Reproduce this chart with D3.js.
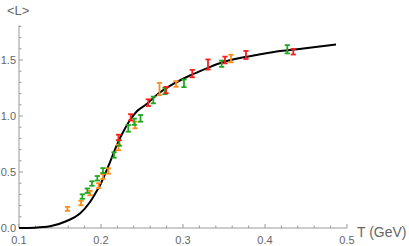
<!DOCTYPE html>
<html>
<head>
<meta charset="utf-8">
<script src="https://cdn.jsdelivr.net/npm/d3@7"></script>
<style>
  body { margin: 0; background: #fff; }
  text { font-family: "Liberation Sans", Arial, sans-serif; fill: #666; }
</style>
</head>
<body>
<div id="chart"></div>
<script>
const width = 409
const height = 246

// lattice points: [T, <L>, error]
const orange = [
  [0.1591, 0.171, 0.018], [0.1756, 0.223, 0.02], [0.1866, 0.312, 0.02],
  [0.1972, 0.378, 0.022], [0.2024, 0.46, 0.022], [0.2089, 0.509, 0.024],
  [0.2213, 0.719, 0.025], [0.2415, 0.92, 0.03], [0.2713, 1.241, 0.055],
  [0.2915, 1.286, 0.025], [0.3585, 1.513, 0.034]
]
const green = [
  [0.1772, 0.281, 0.02], [0.1833, 0.333, 0.02], [0.189, 0.397, 0.02],
  [0.1955, 0.444, 0.02], [0.2024, 0.513, 0.022], [0.2159, 0.652, 0.024],
  [0.2223, 0.759, 0.025], [0.2333, 0.89, 0.03], [0.2406, 0.949, 0.028],
  [0.2482, 0.979, 0.03], [0.2638, 1.143, 0.03], [0.278, 1.223, 0.028],
  [0.3012, 1.292, 0.034], [0.3472, 1.467, 0.028], [0.4272, 1.596, 0.037]
]
const red = [
  [0.2213, 0.808, 0.025], [0.2362, 0.988, 0.028], [0.2577, 1.119, 0.03],
  [0.2793, 1.232, 0.028], [0.3113, 1.379, 0.033], [0.3305, 1.46, 0.045],
  [0.3512, 1.5, 0.03], [0.3768, 1.545, 0.036], [0.4345, 1.574, 0.025]
]

// model curve
const curveT = [0.1, 0.1195, 0.1378, 0.1582, 0.1744, 0.1866, 0.1948, 0.2, 0.2055, 0.211,
  0.2183, 0.2232, 0.2272, 0.2354, 0.2435, 0.2557, 0.2679, 0.2882, 0.3085, 0.3289,
  0.3491, 0.3695, 0.3899, 0.4183, 0.4467, 0.4866]
const curveL = [0, 0.003, 0.015, 0.0625, 0.129, 0.232, 0.33, 0.40, 0.491, 0.589,
  0.723, 0.804, 0.86, 0.964, 1.04, 1.107, 1.1875, 1.286, 1.362, 1.426,
  1.482, 1.518, 1.545, 1.58, 1.603, 1.638]

const xTicks = [0.1, 0.2, 0.3, 0.4, 0.5]
const yTicks = [0.0, 0.5, 1.0, 1.5]

const x = d3.scaleLinear().domain([0.1, 0.5]).range([19, 347])
const y = d3.scaleLinear().domain([0, 1.81]).range([228, 25.3])

const svg = d3.select('#chart')
  .append('svg')
  .attr('width', width)
  .attr('height', height)

const axisColor = '#999'

// x axis
svg.append('line')
  .attr('x1', x(0.1)).attr('x2', x(0.5))
  .attr('y1', y(0)).attr('y2', y(0))
  .attr('stroke', axisColor)

d3.range(0.1, 0.5001, 0.02).forEach((t) => {
  const major = xTicks.some((v) => Math.abs(v - t) < 1e-6)
  svg.append('line')
    .attr('x1', x(t)).attr('x2', x(t))
    .attr('y1', y(0)).attr('y2', y(0) - (major ? 4 : 2.5))
    .attr('stroke', axisColor)
})

svg.selectAll('text.xt')
  .data(xTicks)
  .enter()
  .append('text')
  .attr('class', 'xt')
  .attr('x', (d) => x(d))
  .attr('y', 244)
  .attr('text-anchor', 'middle')
  .attr('font-size', 11)
  .text((d) => d.toFixed(1))

// y axis
svg.append('line')
  .attr('x1', x(0.1)).attr('x2', x(0.1))
  .attr('y1', y(0)).attr('y2', y(1.81))
  .attr('stroke', axisColor)

d3.range(0, 1.8001, 0.1).forEach((v) => {
  const major = yTicks.some((w) => Math.abs(w - v) < 1e-6)
  svg.append('line')
    .attr('x1', x(0.1)).attr('x2', x(0.1) + (major ? 4 : 2.5))
    .attr('y1', y(v)).attr('y2', y(v))
    .attr('stroke', axisColor)
})

svg.selectAll('text.yt')
  .data(yTicks)
  .enter()
  .append('text')
  .attr('class', 'yt')
  .attr('x', 16)
  .attr('y', (d) => y(d) + 4)
  .attr('text-anchor', 'end')
  .attr('font-size', 11)
  .text((d) => d.toFixed(1))

svg.append('text')
  .attr('x', 7).attr('y', 15)
  .attr('font-size', 13)
  .text('<L>')

svg.append('text')
  .attr('x', 357).attr('y', 237)
  .attr('font-size', 14)
  .text('T (GeV)')

// curve
const line = d3.line()
  .x((d) => x(d[0]))
  .y((d) => y(d[1]))
  .curve(d3.curveMonotoneX)

svg.append('path')
  .datum(curveT.map((t, i) => [t, curveL[i]]))
  .attr('d', line)
  .attr('fill', 'none')
  .attr('stroke', '#000')
  .attr('stroke-width', 2)

// error bars
function drawSeries(data, color) {
  const g = svg.append('g').attr('stroke', color).attr('stroke-width', 1.8)
  const cap = 2.6
  data.forEach((d) => {
    const cx = x(d[0])
    const top = y(d[1] + d[2])
    const bot = y(d[1] - d[2])
    g.append('line').attr('x1', cx).attr('x2', cx).attr('y1', top).attr('y2', bot)
    g.append('line').attr('x1', cx - cap).attr('x2', cx + cap).attr('y1', top).attr('y2', top)
    g.append('line').attr('x1', cx - cap).attr('x2', cx + cap).attr('y1', bot).attr('y2', bot)
  })
}

drawSeries(orange, '#ff8c1a')
drawSeries(green, '#1fa81f')
drawSeries(red, '#f51f1f')
</script>
</body>
</html>
